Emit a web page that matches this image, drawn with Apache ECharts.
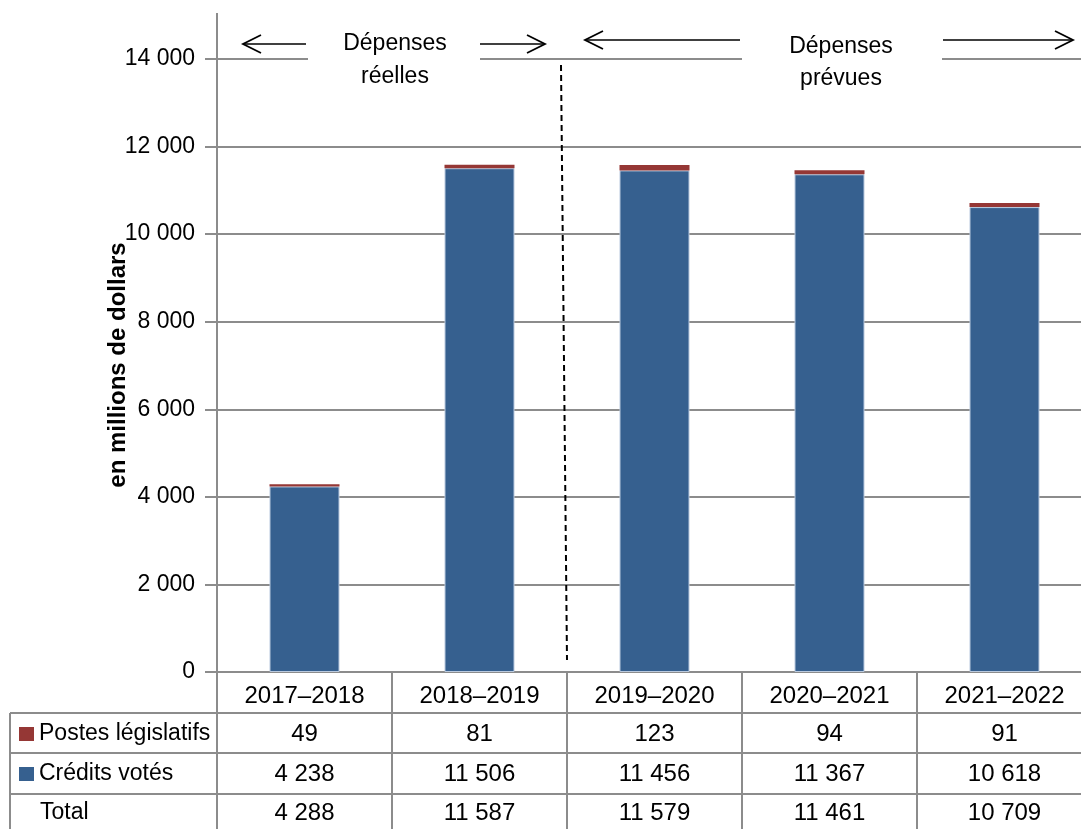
<!DOCTYPE html>
<html><head><meta charset="utf-8">
<script src="https://cdn.jsdelivr.net/npm/echarts@6/dist/echarts.min.js"></script>
<style>html,body{margin:0;padding:0;background:#fff}#c{width:1081px;height:829px}</style>
</head><body><div id="c"></div><script>
const categories = ['2017–2018', '2018–2019', '2019–2020', '2020–2021', '2021–2022'];
const postesLegislatifs = [49, 81, 123, 94, 91];
const creditsVotes = [4238, 11506, 11456, 11367, 10618];
const totals = [4288, 11587, 11579, 11461, 10709];
const rowNames = ['Postes législatifs', 'Crédits votés', 'Total'];
const yAxisTitle = 'en millions de dollars';
const periodLabels = [['Dépenses', 'réelles'], ['Dépenses', 'prévues']];

const FONT = '"Liberation Sans", Arial, sans-serif';
const GRAY = '#8c8c8c';
const BLUE = '#36608f';
const RED = '#953735';
const fmt = n => String(n).replace(/\B(?=(\d{3})+(?!\d))/g, ' ');

const chart = echarts.init(document.getElementById('c'), null, {renderer: 'canvas'});

function rowAxis(data, margin) {
  return {
    type: 'category', data: data.map(fmt), gridIndex: 0, position: 'bottom', offset: 0,
    axisLine: {show: false}, axisTick: {show: false}, splitLine: {show: false},
    axisLabel: {margin: margin, fontSize: 24, color: '#000', fontFamily: FONT, interval: 0}
  };
}

const T = (text, x, y, align, size) => ({
  type: 'text', z: 110,
  style: {text: text, x: x, y: y, font: (size || 24) + 'px ' + FONT, fill: '#000', textAlign: align || 'center', textVerticalAlign: 'middle'}
});
const L = (x1, y1, x2, y2, style) => ({
  type: 'line', z: 105, shape: {x1, y1, x2, y2},
  style: Object.assign({stroke: '#000', lineWidth: 2}, style || {})
});
const P = (pts) => ({type: 'polyline', z: 105, shape: {points: pts}, style: {stroke: '#000', lineWidth: 1.8, fill: null}});

const graphics = [
  L(217, 13, 217, 59, {stroke: GRAY}),
  L(10, 713, 1081, 713, {stroke: GRAY}),
  L(10, 753, 1081, 753, {stroke: GRAY}),
  L(10, 794, 1081, 794, {stroke: GRAY}),
  L(10, 713, 10, 829, {stroke: GRAY}),
  {type: 'rect', z: 110, shape: {x: 19, y: 727, width: 15, height: 14}, style: {fill: RED}},
  {type: 'rect', z: 110, shape: {x: 19, y: 767, width: 15, height: 14}, style: {fill: BLUE}},
  T(rowNames[0], 39, 734, 'left', 23),
  T(rowNames[1], 39, 774, 'left', 23),
  T(rowNames[2], 40, 813, 'left', 23),
  {type: 'text', z: 110, x: 118, y: 365, rotation: Math.PI / 2,
   style: {text: yAxisTitle, font: 'bold 24px ' + FONT, fill: '#000', textAlign: 'center', textVerticalAlign: 'middle'}},
  {type: 'rect', z: 100, shape: {x: 308, y: 26, width: 172, height: 70}, style: {fill: '#fff'}},
  {type: 'rect', z: 100, shape: {x: 742, y: 26, width: 200, height: 70}, style: {fill: '#fff'}},
  T(periodLabels[0][0], 395, 44, 'center', 23), T(periodLabels[0][1], 395, 77, 'center', 23),
  T(periodLabels[1][0], 841, 47, 'center', 23), T(periodLabels[1][1], 841, 79, 'center', 23),
  L(243, 44, 306, 44, {lineWidth: 1.5}), P([[261, 35], [243, 44], [261, 53]]),
  L(480, 44, 545, 44, {lineWidth: 1.5}), P([[527, 35], [545, 44], [527, 53]]),
  L(585, 40, 740, 40, {lineWidth: 1.5}), P([[603, 31], [585, 40], [603, 49]]),
  L(943, 40, 1073, 40, {lineWidth: 1.5}), P([[1055, 31], [1073, 40], [1055, 49]]),
  L(561, 65, 567, 660, {lineDash: [6, 4], lineWidth: 2})
];

chart.setOption({
  animation: false,
  backgroundColor: '#fff',
  grid: {left: 217, width: 875, top: 59, bottom: 157, containLabel: false, outerBoundsMode: 'none'},
  xAxis: [
    {
      type: 'category', data: categories, boundaryGap: true,
      axisLine: {show: true, lineStyle: {color: GRAY, width: 2}},
      axisTick: {show: true, length: 157, interval: 0, lineStyle: {color: GRAY, width: 2}},
      axisLabel: {margin: 12, fontSize: 24, color: '#000', fontFamily: FONT, interval: 0},
      splitLine: {show: false}
    },
    rowAxis(postesLegislatifs, 50),
    rowAxis(creditsVotes, 90),
    rowAxis(totals, 129)
  ],
  yAxis: {
    type: 'value', min: 0, max: 14000, interval: 2000,
    axisLine: {show: true, lineStyle: {color: GRAY, width: 2}},
    axisTick: {show: true, length: 12, lineStyle: {color: GRAY, width: 2}},
    axisLabel: {margin: 22, fontSize: 23, color: '#000', fontFamily: FONT, formatter: v => fmt(v)},
    splitLine: {show: true, lineStyle: {color: GRAY, width: 2}}
  },
  series: [
    {name: rowNames[1], type: 'bar', stack: 's', data: creditsVotes, barWidth: '40%',
     itemStyle: {color: BLUE, borderColor: '#b9c9de', borderWidth: 1}},
    {name: rowNames[0], type: 'bar', stack: 's', data: postesLegislatifs, barWidth: '40%',
     itemStyle: {color: RED}}
  ],
  graphic: {elements: graphics}
});
</script></body></html>
